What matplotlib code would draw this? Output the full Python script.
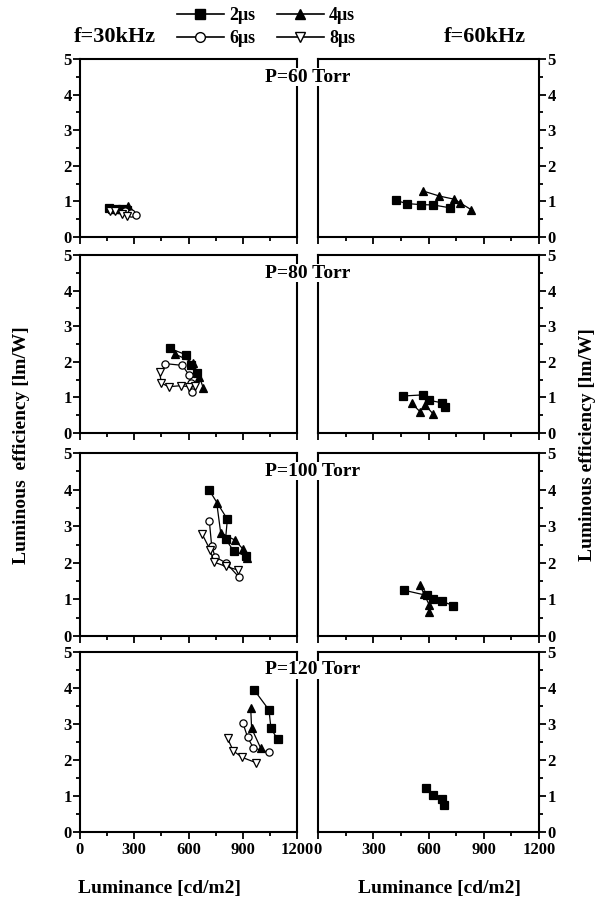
import matplotlib.pyplot as plt
from matplotlib.lines import Line2D
from matplotlib.ticker import MultipleLocator

plt.rcParams['font.family'] = ['Liberation Serif', 'DejaVu Serif']
plt.rcParams['font.weight'] = 'bold'

pressures = ['P=60 Torr', 'P=80 Torr', 'P=100 Torr', 'P=120 Torr']
widths = ['2μs', '4μs', '6μs', '8μs']

# f=30kHz : (luminance, efficiency)
f30_p60_2us = ([160, 200, 230, 260], [0.82, 0.80, 0.78, 0.76])
f30_p60_4us = ([175, 215, 265], [0.78, 0.80, 0.88])
f30_p60_6us = ([250, 280, 310], [0.72, 0.68, 0.62])
f30_p60_8us = ([165, 195, 230, 260], [0.72, 0.72, 0.66, 0.60])

f30_p80_2us = ([495, 585, 615, 645], [2.38, 2.20, 1.92, 1.68])
f30_p80_4us = ([525, 625, 660, 682], [2.22, 1.98, 1.58, 1.26])
f30_p80_6us = ([470, 565, 605, 612, 620], [1.95, 1.90, 1.62, 1.40, 1.15])
f30_p80_8us = ([440, 450, 490, 560, 600, 635], [1.72, 1.40, 1.30, 1.33, 1.30, 1.32])

f30_p100_2us = ([715, 815, 805, 850, 920], [3.98, 3.19, 2.65, 2.32, 2.18])
f30_p100_4us = ([756, 778, 857, 900, 922], [3.64, 2.82, 2.62, 2.38, 2.12])
f30_p100_6us = ([715, 728, 747, 807, 877], [3.15, 2.47, 2.16, 2.00, 1.62])
f30_p100_8us = ([676, 719, 741, 807, 875], [2.78, 2.36, 2.02, 1.90, 1.80])

f30_p120_2us = ([964, 1045, 1056, 1093], [3.94, 3.39, 2.88, 2.57])
f30_p120_4us = ([944, 949, 1000], [3.44, 2.88, 2.32])
f30_p120_6us = ([900, 927, 958, 1045], [3.04, 2.63, 2.34, 2.21])
f30_p120_8us = ([816, 848, 898, 971], [2.60, 2.25, 2.07, 1.93])

# f=60kHz
f60_p60_2us = ([422, 481, 557, 626, 717], [1.03, 0.94, 0.91, 0.90, 0.82])
f60_p60_4us = ([572, 659, 741, 771, 831], [1.29, 1.15, 1.06, 0.96, 0.77])
f60_p80_2us = ([463, 568, 600, 672, 690], [1.04, 1.07, 0.92, 0.85, 0.74])
f60_p80_4us = ([509, 554, 581, 626], [0.83, 0.60, 0.79, 0.53])
f60_p100_2us = ([467, 590, 623, 672, 735], [1.25, 1.11, 1.02, 0.95, 0.83])
f60_p100_4us = ([554, 576, 604, 604], [1.39, 1.14, 0.85, 0.65])
f60_p120_2us = ([586, 623, 675, 686], [1.21, 1.03, 0.91, 0.75])

left_data = [
    {'2μs': f30_p60_2us, '4μs': f30_p60_4us, '6μs': f30_p60_6us, '8μs': f30_p60_8us},
    {'2μs': f30_p80_2us, '4μs': f30_p80_4us, '6μs': f30_p80_6us, '8μs': f30_p80_8us},
    {'2μs': f30_p100_2us, '4μs': f30_p100_4us, '6μs': f30_p100_6us, '8μs': f30_p100_8us},
    {'2μs': f30_p120_2us, '4μs': f30_p120_4us, '6μs': f30_p120_6us, '8μs': f30_p120_8us},
]
right_data = [
    {'2μs': f60_p60_2us, '4μs': f60_p60_4us},
    {'2μs': f60_p80_2us, '4μs': f60_p80_4us},
    {'2μs': f60_p100_2us, '4μs': f60_p100_4us},
    {'2μs': f60_p120_2us},
]

style = {
    '2μs': dict(marker='s', mfc='black'),
    '4μs': dict(marker='^', mfc='black'),
    '6μs': dict(marker='o', mfc='white'),
    '8μs': dict(marker='v', mfc='white'),
}

W, H = 605, 902
fig = plt.figure(figsize=(W / 100, H / 100), dpi=100)


def fx(px):
    return px / W


def fy(py):
    return 1 - py / H


rows = [(59, 237), (255, 433), (453, 636), (652, 832)]


def setup(ax, side, last):
    ax.set_xlim(0, 1200)
    ax.set_ylim(0, 5)
    ax.xaxis.set_major_locator(MultipleLocator(300))
    ax.xaxis.set_minor_locator(MultipleLocator(150))
    ax.yaxis.set_major_locator(MultipleLocator(1))
    ax.yaxis.set_minor_locator(MultipleLocator(0.5))
    for sp in ax.spines.values():
        sp.set_linewidth(1.5)
    ax.tick_params(which='both', direction='out', width=1.3, labelsize=12)
    ax.tick_params(which='major', length=5)
    ax.tick_params(which='minor', length=3)
    ax.tick_params(axis='x', top=False, labelbottom=last, pad=2)
    if side == 'right':
        ax.yaxis.tick_right()
    ax.tick_params(axis='y', pad=1)


for i, (top, bot) in enumerate(rows):
    last = i == len(rows) - 1
    axl = fig.add_axes([fx(80), fy(bot), fx(217), (bot - top) / H])
    axr = fig.add_axes([fx(318), fy(bot), fx(221), (bot - top) / H])
    setup(axl, 'left', last)
    setup(axr, 'right', last)
    for ax, data in ((axl, left_data[i]), (axr, right_data[i])):
        for w, (lum, eff) in data.items():
            ax.plot(lum, eff, color='black', lw=0.9, ms=5.2, mec='black',
                    mew=0.9, **style[w])
    # pressure label sits on top of the two inner spines
    t = fig.text(fx(265), fy(top + 18), pressures[i], ha='left', va='center',
                 fontsize=14, zorder=10,
                 bbox=dict(facecolor='white', edgecolor='none', pad=0.5))

handles = [Line2D([], [], color='black', lw=1.2, ms=7, mec='black', **style[w])
           for w in ['2μs', '6μs', '4μs', '8μs']]
fig.legend(handles, ['2μs', '6μs', '4μs', '8μs'], loc='center',
           bbox_to_anchor=(fx(266), fy(27)), ncol=2, frameon=False,
           fontsize=13, handlelength=2.6, columnspacing=1.2,
           labelspacing=0.35, handletextpad=0.3)

fig.text(fx(115), fy(37), 'f=30kHz', ha='center', va='center', fontsize=16)
fig.text(fx(485), fy(37), 'f=60kHz', ha='center', va='center', fontsize=16)

fig.text(fx(22), fy(445), 'Luminous  efficiency [lm/W]', rotation=90,
         ha='center', va='center', fontsize=14)
fig.text(fx(588), fy(445), 'Luminous efficiency [lm/W]', rotation=90,
         ha='center', va='center', fontsize=14)
fig.text(fx(160), fy(888), 'Luminance [cd/m2]', ha='center', va='center',
         fontsize=14)
fig.text(fx(440), fy(888), 'Luminance [cd/m2]', ha='center', va='center',
         fontsize=14)

fig.savefig('out.png', dpi=100)
